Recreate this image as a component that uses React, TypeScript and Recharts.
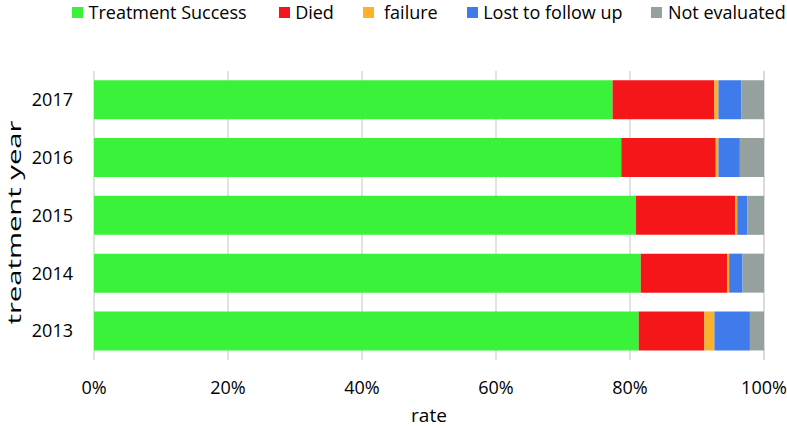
import React from 'react';
import { BarChart, Bar, XAxis, YAxis, CartesianGrid, Legend } from 'recharts';

const years = ['2017', '2016', '2015', '2014', '2013'];
const treatmentSuccess = [77.4, 78.7, 80.9, 81.6, 81.3];
const died = [15.2, 14.1, 14.8, 12.9, 9.8];
const failure = [0.6, 0.4, 0.3, 0.3, 1.5];
const lostToFollowUp = [3.4, 3.2, 1.5, 2.0, 5.3];
const notEvaluated = [3.4, 3.6, 2.5, 3.2, 2.1];
const xTicks = [0, 20, 40, 60, 80, 100];

const seriesKeys = ['success', 'died', 'failure', 'lost', 'notEval'];
const seriesNames = ['Treatment Success', 'Died', ' failure', 'Lost to follow up', 'Not evaluated'];
const seriesColors = ['#3af23a', '#f5161a', '#fbb12a', '#3f7beb', '#95a19f'];

const data = years.map((y, i) => ({
  year: y,
  success: treatmentSuccess[i],
  died: died[i],
  failure: failure[i],
  lost: lostToFollowUp[i],
  notEval: notEvaluated[i],
}));

const FONT = "'Open Sans', sans-serif";

const LegendContent = () => (
  <div
    style={{
      height: 71,
      paddingLeft: 72,
      boxSizing: 'border-box',
      fontFamily: FONT,
      fontSize: 18,
      color: '#000',
    }}
  >
    <div style={{ display: 'flex', alignItems: 'center', height: 25 }}>
      {seriesNames.map((n, i) => (
        <div key={n} style={{ display: 'flex', alignItems: 'center', marginRight: i === 0 ? 32 : 29 }}>
          <span style={{ display: 'inline-block', width: 11, height: 11, background: seriesColors[i], marginRight: 5.5 }} />
          <span style={{ whiteSpace: 'pre', lineHeight: '25px' }}>{n}</span>
        </div>
      ))}
    </div>
  </div>
);

const YLabel = (props: any) => {
  const vb = props.viewBox || { x: 0, y: 71, width: 94, height: 289 };
  const x = vb.x + 20.5;
  const y = vb.y + vb.height / 2 + 7;
  return (
    <text
      x={x}
      y={y}
      transform={`rotate(-90 ${x} ${y})`}
      textAnchor="middle"
      fontFamily={FONT}
      fontSize={19}
      fill="#000"
      textLength={204}
      lengthAdjust="spacingAndGlyphs"
    >
      treatment year
    </text>
  );
};

const XLabel = (props: any) => {
  const vb = props.viewBox || { x: 94, y: 360, width: 670, height: 68 };
  return (
    <text
      x={vb.x + vb.width / 2}
      y={vb.y + vb.height - 6}
      textAnchor="middle"
      fontFamily={FONT}
      fontSize={19}
      fill="#000"
    >
      rate
    </text>
  );
};

export default function App() {
  return (
    <div style={{ position: 'absolute', left: 0, top: 0, width: 787, height: 428, background: '#fff' }}>
      <BarChart
        width={787}
        height={428}
        data={data}
        layout="vertical"
        margin={{ top: 0, right: 23, bottom: 0, left: 0 }}
        barCategoryGap="16%"
      >
        <CartesianGrid horizontal={false} stroke="#d9d9d9" strokeWidth={1.5} />
        <Legend
          verticalAlign="top"
          align="left"
          content={<LegendContent />}
          wrapperStyle={{ left: 0, top: 0, width: 787, height: 71 }}
        />
        <XAxis
          type="number"
          domain={[0, 100]}
          ticks={xTicks}
          tickFormatter={(v: number) => `${v}%`}
          axisLine={false}
          tickLine={false}
          tickSize={0}
          tickMargin={21}
          height={68}
          interval={0}
          tick={{ fontFamily: FONT, fontSize: 18, fill: '#000' }}
          label={{ content: <XLabel /> }}
        />
        <YAxis
          type="category"
          dataKey="year"
          axisLine={false}
          tickLine={false}
          tickSize={0}
          tickMargin={21}
          width={94}
          tick={{ fontFamily: FONT, fontSize: 18, fill: '#000' }}
          label={{ content: <YLabel /> }}
        />
        {seriesKeys.map((k, i) => (
          <Bar
            key={k}
            dataKey={k}
            name={seriesNames[i]}
            stackId="a"
            fill={seriesColors[i]}
            isAnimationActive={false}
          />
        ))}
      </BarChart>
    </div>
  );
}
